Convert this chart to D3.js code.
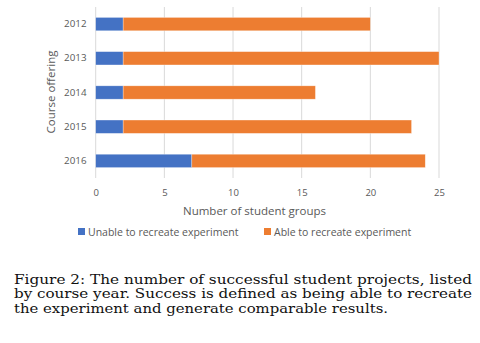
<!DOCTYPE html>
<html><head><meta charset="utf-8">
<script src="https://cdn.jsdelivr.net/npm/d3@7"></script>
<style>body{margin:0;background:#fff}svg{display:block}</style>
</head><body>
<svg id="c" width="480" height="343"></svg>
<script>
const years = ["2012","2013","2014","2015","2016"];
const unable = [2,2,2,2,7];
const able = [18,23,14,21,17];
const xTicks = [0,5,10,15,20,25];
const seriesNames = ["Unable to recreate experiment","Able to recreate experiment"];
const colors = ["#4472C4","#ED7D31"];
const captionLines = [
  "Figure 2: The number of successful student projects, listed",
  "by course year. Success is defined as being able to recreate",
  "the experiment and generate comparable results."
];
const captionWidths = [458,458,374];

const svg = d3.select("#c");
const x = d3.scaleLinear().domain([0,25]).range([95.7,439]);
const y = d3.scaleBand().domain(years).range([7,178]).paddingInner(0.61).paddingOuter(0.305);
const font = "'Open Sans', sans-serif";
const gray = "#595959";

// gridlines
svg.append("g").selectAll("line").data(xTicks).join("line")
  .attr("x1",d=>x(d)).attr("x2",d=>x(d)).attr("y1",7).attr("y2",178)
  .attr("stroke","#d9d9d9").attr("stroke-width",1);

// stacked bars
const rows = years.map((yr,i)=>({year:yr, unable:unable[i], able:able[i]}));
const stack = d3.stack().keys(["unable","able"])(rows);
svg.append("g").selectAll("g").data(stack).join("g")
  .attr("fill",(d,i)=>colors[i])
  .selectAll("rect").data(d=>d).join("rect")
  .attr("x",d=>x(d[0])).attr("width",d=>x(d[1])-x(d[0]))
  .attr("y",d=>y(d.data.year)).attr("height",y.bandwidth())
  .attr("stroke","#fff").attr("stroke-opacity",0.5).attr("stroke-width",0.6);

// x axis labels
const xa = svg.append("g").attr("transform","translate(0,178)")
  .call(d3.axisBottom(x).tickValues(xTicks).tickSize(0).tickPadding(11));
xa.select(".domain").remove();
xa.selectAll("text").attr("font-family",font).attr("font-size",9.5).attr("fill",gray);

// y axis labels
const ya = svg.append("g").attr("transform","translate(86.5,0)")
  .call(d3.axisLeft(y).tickSize(0).tickPadding(0));
ya.select(".domain").remove();
ya.selectAll("text").attr("font-family",font).attr("font-size",9.8).attr("fill",gray);

// axis titles
svg.append("text").attr("x",254.5).attr("y",214.5).attr("text-anchor","middle")
  .attr("font-family",font).attr("font-size",11.5).attr("fill",gray)
  .text("Number of student groups");
svg.append("text").attr("transform","translate(55,92) rotate(-90)").attr("text-anchor","middle")
  .attr("font-family",font).attr("font-size",11.5).attr("fill",gray)
  .text("Course offering");

// legend
const legX = [78,264];
const lg = svg.append("g").selectAll("g").data(seriesNames).join("g")
  .attr("transform",(d,i)=>`translate(${legX[i]},228)`);
lg.append("rect").attr("width",7).attr("height",7).attr("fill",(d,i)=>colors[i]);
lg.append("text").attr("x",10).attr("y",7.8).attr("font-family",font).attr("font-size",10.5)
  .attr("fill",gray).text(d=>d);

// caption
svg.append("g").selectAll("text").data(captionLines).join("text")
  .attr("x",14).attr("y",(d,i)=>283.5+i*14.5)
  .attr("font-family","'DejaVu Serif', serif").attr("font-size",12.6).attr("fill","#111")
  .attr("textLength",(d,i)=>captionWidths[i]).attr("lengthAdjust","spacingAndGlyphs")
  .text(d=>d);
</script>
</body></html>
